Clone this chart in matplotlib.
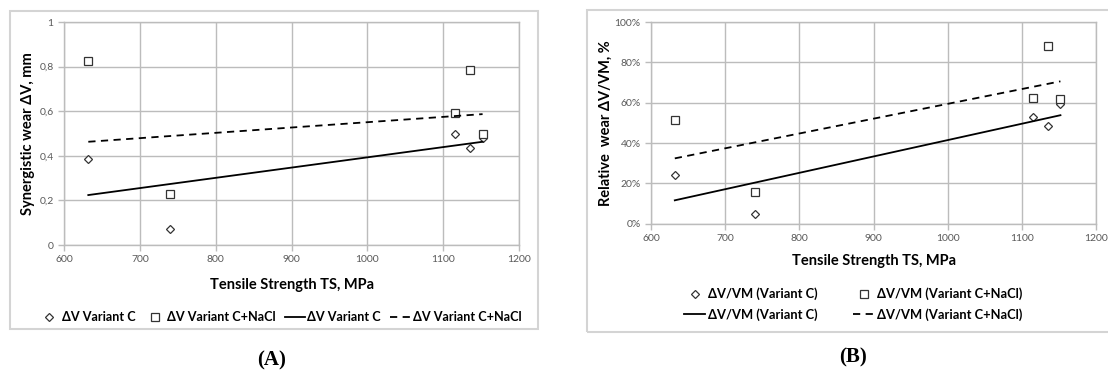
import numpy as np
import matplotlib.pyplot as plt
from matplotlib.patches import Rectangle

plt.rcParams['font.family'] = ['Lato', 'DejaVu Sans']

# tensile strength, MPa
ts = [632, 740, 1115, 1135, 1152]
# synergistic wear dV, mm
dv_c = [0.385, 0.07, 0.50, 0.435, 0.48]
dv_nacl = [0.825, 0.23, 0.59, 0.785, 0.50]
# relative wear dV/VM, %
rel_c = [24.1, 5.0, 52.7, 48.5, 59.4]
rel_nacl = [51.3, 15.8, 62.4, 88.3, 61.9]

# linear trend lines as drawn in the source (value at first and last TS)
trend_ts = [632, 1152]
trend_dv_c = [0.224, 0.463]
trend_dv_nacl = [0.463, 0.587]
trend_rel_c = [11.6, 53.8]
trend_rel_nacl = [32.4, 70.6]

x_ticks = [600, 700, 800, 900, 1000, 1100, 1200]
ya_ticks = [0, 0.2, 0.4, 0.6, 0.8, 1.0]
ya_labels = ['0', '0,2', '0,4', '0,6', '0,8', '1']
yb_ticks = [0, 20, 40, 60, 80, 100]
yb_labels = ['0%', '20%', '40%', '60%', '80%', '100%']

grid_c = '#bcbcbc'
tick_c = '#595959'

fig = plt.figure(figsize=(11.08, 3.76), dpi=100)

# outer chart frames
fig.patches.append(Rectangle((0.009, 0.125), 0.4765, 0.846, transform=fig.transFigure,
                             fill=False, edgecolor='#d4d4d4', lw=1.5))
fig.patches.append(Rectangle((0.5298, 0.117), 0.48, 0.856, transform=fig.transFigure,
                             fill=False, edgecolor='#d4d4d4', lw=1.5))

axA = fig.add_axes([0.0578, 0.3484, 0.4106, 0.593])
axB = fig.add_axes([0.5876, 0.405, 0.4016, 0.5364])


def style(ax, yt, yl):
    ax.set_xlim(600, 1200)
    ax.set_ylim(yt[0], yt[-1])
    ax.set_xticks(x_ticks)
    ax.set_yticks(yt)
    ax.set_yticklabels(yl)
    ax.grid(True, color=grid_c, lw=1)
    ax.set_axisbelow(True)
    for s in ax.spines.values():
        s.set_color(grid_c)
        s.set_linewidth(1)
    ax.tick_params(colors=grid_c, labelcolor=tick_c, labelsize=7.5, length=4, width=1)


mk_d = dict(ls='none', marker='D', ms=3.6, mfc='white', mec='#333333', mew=0.9)
mk_s = dict(ls='none', marker='s', ms=5.8, mfc='white', mec='#333333', mew=0.9)
dash = (0, (4, 3))

# panel A
style(axA, ya_ticks, ya_labels)
p1, = axA.plot(ts, dv_c, **mk_d)
p2, = axA.plot(ts, dv_nacl, **mk_s)
l1, = axA.plot(trend_ts, trend_dv_c, color='black', lw=1.3)
l2, = axA.plot(trend_ts, trend_dv_nacl, color='black', lw=1.3, ls=dash)
axA.set_xlabel('Tensile Strength TS, MPa', fontsize=10.5, fontweight='bold', labelpad=10)
axA.set_ylabel('Synergistic wear ΔV, mm', fontsize=10.5, fontweight='bold', labelpad=3)
fig.legend([p1, p2, l1, l2],
           ['ΔV Variant C', 'ΔV Variant C+NaCl', 'ΔV Variant C', 'ΔV Variant C+NaCl'],
           loc='center', bbox_to_anchor=(0.253, 0.157), ncol=4, frameon=False,
           prop={'weight': 'bold', 'size': 9.1}, handlelength=1.6,
           columnspacing=0.7, handletextpad=0.2)

# panel B
style(axB, yb_ticks, yb_labels)
q1, = axB.plot(ts, rel_c, **mk_d)
q2, = axB.plot(ts, rel_nacl, **mk_s)
m1, = axB.plot(trend_ts, trend_rel_c, color='black', lw=1.3)
m2, = axB.plot(trend_ts, trend_rel_nacl, color='black', lw=1.3, ls=dash)
axB.set_xlabel('Tensile Strength TS, MPa', fontsize=10.5, fontweight='bold', labelpad=8)
axB.set_ylabel('Relative  wear ΔV/VM, %', fontsize=10.5, fontweight='bold', labelpad=1.5)
fig.legend([q1, m1, q2, m2],
           ['ΔV/VM (Variant C)', 'ΔV/VM (Variant C)',
            'ΔV/VM (Variant C+NaCl)', 'ΔV/VM (Variant C+NaCl)'],
           loc='center', bbox_to_anchor=(0.770, 0.191), ncol=2, frameon=False,
           prop={'weight': 'bold', 'size': 9.3}, handlelength=1.6,
           columnspacing=2.8, handletextpad=0.2, labelspacing=0.6)

fig.text(0.2455, 0.042, '(A)', ha='center', va='center', fontsize=15, fontweight='bold',
         family=['Liberation Serif', 'DejaVu Serif'])
fig.text(0.770, 0.048, '(B)', ha='center', va='center', fontsize=15, fontweight='bold',
         family=['Liberation Serif', 'DejaVu Serif'])

fig.savefig('out.png', dpi=100)
